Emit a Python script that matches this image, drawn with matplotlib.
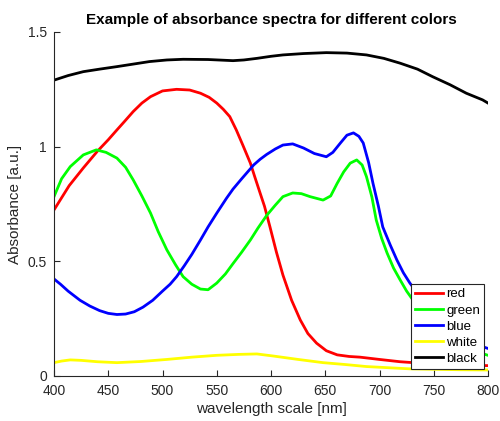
import matplotlib
matplotlib.use("Agg")
import matplotlib.pyplot as plt

plt.rcParams["font.family"] = ["Liberation Sans", "DejaVu Sans"]

# wavelength (nm) and absorbance [a.u.], one pair of lists per colour
wl_red = [400, 414, 427, 440, 450, 458, 465, 473, 481, 489, 500, 513, 525, 535, 543, 550, 556,
          562, 568, 574, 581, 585, 590, 594, 599, 605, 611, 619, 627, 634, 642, 651, 661, 672,
          682, 700, 719, 740, 760, 780, 800]
red = [0.724, 0.83, 0.907, 0.98, 1.03, 1.073, 1.11, 1.153, 1.19, 1.218, 1.243, 1.25, 1.247, 1.233,
       1.215, 1.19, 1.163, 1.131, 1.073, 1.007, 0.928, 0.869, 0.797, 0.74, 0.651, 0.54, 0.44,
       0.33, 0.244, 0.185, 0.143, 0.11, 0.092, 0.085, 0.082, 0.072, 0.062, 0.055, 0.05, 0.047,
       0.045]

wl_green = [400, 407, 415, 427, 439, 448, 458, 466, 473, 481, 489, 496, 504, 512, 519, 527, 535,
            542, 550, 558, 565, 573, 581, 588, 596, 604, 611, 620, 628, 636, 648, 655, 661, 667,
            673, 679, 684, 688, 693, 697, 702, 707, 713, 719, 725, 731, 740, 750, 760, 775, 790, 800]
green = [0.782, 0.86, 0.913, 0.964, 0.986, 0.975, 0.95, 0.91, 0.855, 0.785, 0.71, 0.63, 0.55, 0.485,
         0.433, 0.4, 0.379, 0.376, 0.405, 0.445, 0.49, 0.54, 0.593, 0.645, 0.7, 0.745, 0.782, 0.798,
         0.795, 0.782, 0.767, 0.785, 0.84, 0.89, 0.928, 0.942, 0.92, 0.869, 0.78, 0.68, 0.6, 0.536,
         0.47, 0.419, 0.37, 0.33, 0.28, 0.22, 0.18, 0.14, 0.105, 0.09]

wl_blue = [400, 406, 413, 424, 433, 442, 450, 458, 466, 474, 482, 491, 500, 507, 513, 520, 527,
           535, 542, 550, 559, 565, 573, 584, 590, 596, 604, 611, 620, 630, 640, 651, 657, 664,
           670, 676, 681, 685, 690, 694, 699, 703, 710, 716, 722, 728, 740, 750, 760, 775, 790, 800]
blue = [0.423, 0.4, 0.37, 0.33, 0.305, 0.285, 0.273, 0.268, 0.27, 0.28, 0.3, 0.33, 0.37, 0.4,
        0.433, 0.48, 0.53, 0.593, 0.65, 0.71, 0.775, 0.815, 0.86, 0.92, 0.945, 0.966, 0.99, 1.007,
        1.012, 0.994, 0.97, 0.956, 0.975, 1.016, 1.05, 1.06, 1.045, 1.016, 0.93, 0.84, 0.74, 0.65,
        0.57, 0.506, 0.45, 0.405, 0.33, 0.27, 0.22, 0.17, 0.135, 0.12]

wl_white = [400, 407, 415, 425, 440, 458, 480, 504, 527, 550, 570, 587, 602, 625, 648, 668, 688,
            708, 728, 750, 775, 800]
white = [0.058, 0.065, 0.07, 0.068, 0.062, 0.058, 0.063, 0.072, 0.082, 0.09, 0.094, 0.096, 0.087,
         0.072, 0.058, 0.05, 0.041, 0.036, 0.031, 0.029, 0.027, 0.026]

wl_black = [400, 413, 427, 442, 458, 473, 488, 504, 519, 542, 565, 575, 587, 600, 611, 630, 651,
            670, 688, 704, 719, 735, 749, 765, 780, 795, 800]
black = [1.29, 1.31, 1.327, 1.338, 1.349, 1.36, 1.371, 1.378, 1.381, 1.38, 1.375, 1.378, 1.385,
         1.394, 1.40, 1.406, 1.41, 1.408, 1.40, 1.385, 1.364, 1.338, 1.305, 1.27, 1.233, 1.204, 1.19]

fig = plt.figure(figsize=(5.0, 4.21), dpi=100)
ax = fig.add_axes([0.108, 0.107, 0.868, 0.817])

ax.plot(wl_red, red, color="#ff0000", lw=2, label="red")
ax.plot(wl_green, green, color="#00ff00", lw=2, label="green")
ax.plot(wl_blue, blue, color="#0000ff", lw=2, label="blue")
ax.plot(wl_white, white, color="#ffff00", lw=2, label="white")
ax.plot(wl_black, black, color="#000000", lw=2, label="black")

ax.set_xlim(400, 800)
ax.set_ylim(0, 1.5)
ax.set_xticks(range(400, 801, 50))
ax.set_yticks([0, 0.5, 1, 1.5])
ax.set_yticklabels(["0", "0.5", "1", "1.5"])
ax.tick_params(direction="in", labelsize=10, colors="#262626", length=4)
ax.tick_params(axis="x", pad=6)
ax.tick_params(axis="y", pad=5)
for s in ["top", "right"]:
    ax.spines[s].set_visible(False)
for s in ["left", "bottom"]:
    ax.spines[s].set_color("#262626")

ax.set_xlabel("wavelength scale [nm]", fontsize=11, color="#262626", labelpad=3)
ax.set_ylabel("Absorbance [a.u.]", fontsize=11, color="#262626")
ax.set_title("Example of absorbance spectra for different colors", fontsize=11, fontweight="bold", pad=6)

leg = ax.legend(loc="lower right", fontsize=9.5, frameon=True, fancybox=False, edgecolor="#262626",
                handlelength=2.1, handletextpad=0.25, borderpad=0.3, labelspacing=0.3,
                borderaxespad=0, bbox_to_anchor=(0.991, 0.02), framealpha=1)
leg.get_frame().set_linewidth(0.8)

fig.savefig("out.png", dpi=100)
